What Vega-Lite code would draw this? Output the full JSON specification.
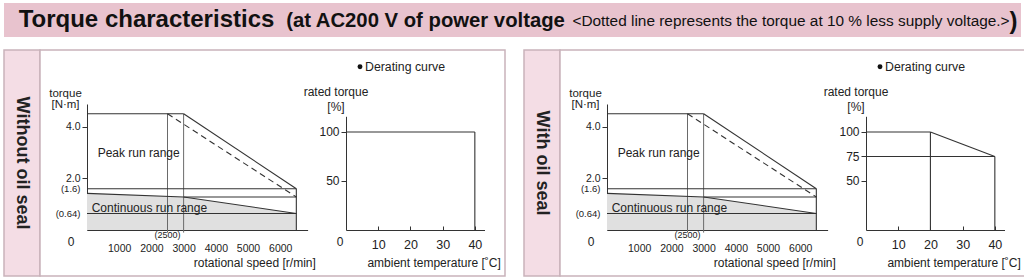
{
  "$schema": "https://vega.github.io/schema/vega-lite/v6.json",
  "padding": {"left": 3, "top": 3, "right": 0, "bottom": 0},
  "background": "white",
  "config": {
    "font": "Liberation Sans",
    "axis": {"grid": false, "domainColor": "#333", "tickColor": "#333", "labelColor": "#222", "titleColor": "#222", "titleFontWeight": "normal", "labelFont": "Liberation Sans", "titleFont": "Liberation Sans", "domainWidth": 1, "tickWidth": 1, "labelOverlap": false, "labelBound": false, "labelFlush": false},
    "text": {"color": "#222", "font": "Liberation Sans"}
  },
  "datasets": {
    "cont": [
      {"rpm": 0, "torque": 1.42},
      {"rpm": 3000, "torque": 1.28},
      {"rpm": 6500, "torque": 0.64}
    ],
    "tSolid": [
      {"rpm": 0, "torque": 4.5, "rpm2": 3000, "torque2": 4.5},
      {"rpm": 3000, "torque": 4.5, "rpm2": 6500, "torque2": 1.6},
      {"rpm": 6500, "torque": 1.6, "rpm2": 6500, "torque2": 0},
      {"rpm": 0, "torque": 1.6, "rpm2": 6500, "torque2": 1.6},
      {"rpm": 0, "torque": 0.64, "rpm2": 6500, "torque2": 0.64},
      {"rpm": 3000, "torque": 1.28, "rpm2": 6500, "torque2": 1.28},
      {"rpm": 0, "torque": 1.42, "rpm2": 3000, "torque2": 1.28},
      {"rpm": 3000, "torque": 1.28, "rpm2": 6500, "torque2": 0.64}
    ],
    "tGray": [
      {"rpm": 2500, "torque": -0.1, "rpm2": 2500, "torque2": 4.5},
      {"rpm": 3000, "torque": -0.1, "rpm2": 3000, "torque2": 4.5}
    ],
    "tDash": [
      {"rpm": 2500, "torque": 4.5, "rpm2": 6500, "torque2": 1.28}
    ],
    "tText": [
      {"label": "Peak run range", "rpm": 330, "torque": 2.97},
      {"label": "Continuous run range", "rpm": 146, "torque": 0.86}
    ],
    "tSmall": [
      {"label": "(2500)", "rpm": 2500, "torque": -0.19}
    ],
    "tZero": [
      {"label": "0", "rpm": -497, "torque": -0.47}
    ],
    "dLeft": [
      {"temp": 0, "pct": 100, "temp2": 40, "pct2": 100},
      {"temp": 40, "pct": 100, "temp2": 40, "pct2": 0}
    ],
    "dRight": [
      {"temp": 0, "pct": 100, "temp2": 20, "pct2": 100},
      {"temp": 20, "pct": 100, "temp2": 40, "pct2": 75},
      {"temp": 40, "pct": 75, "temp2": 40, "pct2": 0},
      {"temp": 0, "pct": 75, "temp2": 40, "pct2": 75},
      {"temp": 20, "pct": 100, "temp2": 20, "pct2": 0}
    ],
    "dBullet": [
      {"temp": 4.35, "pct": 166.6}
    ],
    "dText": [
      {"label": "Derating curve", "temp": 5.9, "pct": 166.6}
    ],
    "dZero": [
      {"label": "0", "temp": -1.86, "pct": -12.2}
    ]
  },
  "spacing": 12,
  "vconcat": [
    {
      "spacing": 0,
      "bounds": "flush",
      "hconcat": [
        {"width": 280, "height": 34, "view": {"fill": "#e8c3ce", "stroke": null},
         "data": {"values": [{"t": "Torque characteristics"}]},
         "mark": {"type": "text", "fontSize": 24, "fontWeight": "bold", "color": "#111", "baseline": "middle", "dx": 2.5},
         "encoding": {"text": {"field": "t"}}},
        {"width": 285, "height": 34, "view": {"fill": "#e8c3ce", "stroke": null},
         "data": {"values": [{"t": "(at AC200 V of power voltage"}]},
         "mark": {"type": "text", "fontSize": 20.3, "fontWeight": "bold", "color": "#111", "baseline": "middle", "dx": -1, "dy": 1},
         "encoding": {"text": {"field": "t"}}},
        {"width": 441, "height": 34, "view": {"fill": "#e8c3ce", "stroke": null},
         "data": {"values": [{"t": "<Dotted line represents the torque at 10 % less supply voltage.>"}]},
         "mark": {"type": "text", "fontSize": 15.4, "color": "#111", "baseline": "middle", "dx": 1.5, "dy": 1},
         "encoding": {"text": {"field": "t"}}},
        {"width": 11, "height": 34, "view": {"fill": "#e8c3ce", "stroke": null},
         "data": {"values": [{"t": ")"}]},
         "mark": {"type": "text", "fontSize": 24, "fontWeight": "bold", "color": "#111", "baseline": "middle", "dx": -2, "dy": 2},
         "encoding": {"text": {"field": "t"}}}
      ]
    },
    {
      "spacing": 17,
      "hconcat": [
        {
          "spacing": 0,
          "bounds": "flush",
          "hconcat": [
            {"width": 36, "height": 226, "view": {"fill": "#f4dde5", "stroke": "#c9b3bb", "strokeWidth": 1.5},
             "data": {"values": [{"t": "Without oil seal"}]},
             "mark": {"type": "text", "angle": 90, "fontSize": 18, "fontWeight": "bold", "color": "#222", "baseline": "middle"},
             "encoding": {"text": {"field": "t"}}},
            {
              "width": 465, "height": 226,
              "view": {"fill": "white", "stroke": "#c9b3bb", "strokeWidth": 1.5},
              "resolve": {"scale": {"x": "independent", "y": "independent"}, "axis": {"x": "independent", "y": "independent"}},
              "layer": [
                {
                  "layer": [
                    {"data": {"name": "cont"}, "mark": {"type": "area", "color": "#e0e0e0"},
                     "encoding": {
                       "x": {"field": "rpm", "type": "quantitative", "scale": {"domain": [0, 6850], "range": [47, 267.6], "nice": false, "zero": false},
                             "axis": {"orient": "bottom", "offset": -46, "values": [1000, 2000, 3000, 4000, 5000, 6000], "format": "d", "tickSize": -4, "labelPadding": 17, "labelFontSize": 10.5, "title": "rotational speed [r/min]", "titleX": 275.3, "titleY": 32, "titleAlign": "right", "titleBaseline": "middle", "titleFontSize": 12}},
                       "y": {"field": "torque", "type": "quantitative", "stack": null, "scale": {"domain": [0, 4.88], "range": [180, 54], "nice": false, "zero": false},
                             "axis": {"orient": "left", "offset": -47, "values": [0.64, 1.6, 2, 4], "labelExpr": "datum.value == 4 ? '4.0' : datum.value == 2 ? '2.0' : datum.value == 1.6 ? '(1.6)' : '(0.64)'", "tickSize": 5, "labelPadding": 2, "labelFontSize": {"condition": {"test": "datum.value < 1.9", "value": 9.5}, "value": 10.5}, "tickOpacity": {"condition": {"test": "datum.value < 1.9", "value": 0}, "value": 1}, "title": ["torque", "[N·m]"], "titleAngle": 0, "titleX": -22, "titleY": 37.5, "titleAlign": "center", "titleBaseline": "top", "titleLineHeight": 11, "titleFontSize": 11.5}}
                     }},
                    {"data": {"name": "tGray"}, "mark": {"type": "rule", "color": "#6a6a6a", "strokeWidth": 1},
                     "encoding": {"x": {"field": "rpm", "type": "quantitative"}, "x2": {"field": "rpm2"}, "y": {"field": "torque", "type": "quantitative"}, "y2": {"field": "torque2"}}},
                    {"data": {"name": "tSolid"}, "mark": {"type": "rule", "color": "#333", "strokeWidth": 1.1},
                     "encoding": {"x": {"field": "rpm", "type": "quantitative"}, "x2": {"field": "rpm2"}, "y": {"field": "torque", "type": "quantitative"}, "y2": {"field": "torque2"}}},
                    {"data": {"name": "tDash"}, "mark": {"type": "rule", "color": "#333", "strokeWidth": 1.1, "strokeDash": [6, 4]},
                     "encoding": {"x": {"field": "rpm", "type": "quantitative"}, "x2": {"field": "rpm2"}, "y": {"field": "torque", "type": "quantitative"}, "y2": {"field": "torque2"}}},
                    {"data": {"name": "tText"}, "mark": {"type": "text", "align": "left", "baseline": "middle", "fontSize": 12},
                     "encoding": {"x": {"field": "rpm", "type": "quantitative"}, "y": {"field": "torque", "type": "quantitative"}, "text": {"field": "label"}}},
                    {"data": {"name": "tSmall"}, "mark": {"type": "text", "align": "center", "baseline": "middle", "fontSize": 9},
                     "encoding": {"x": {"field": "rpm", "type": "quantitative"}, "y": {"field": "torque", "type": "quantitative"}, "text": {"field": "label"}}},
                    {"data": {"name": "tZero"}, "mark": {"type": "text", "align": "center", "baseline": "middle", "fontSize": 12},
                     "encoding": {"x": {"field": "rpm", "type": "quantitative"}, "y": {"field": "torque", "type": "quantitative"}, "text": {"field": "label"}}}
                  ]
                },
                {
                  "layer": [
                    {"data": {"name": "dLeft"}, "mark": {"type": "rule", "color": "#333", "strokeWidth": 1.1},
                     "encoding": {
                       "x": {"field": "temp", "type": "quantitative", "scale": {"domain": [0, 43], "range": [306, 444.5], "nice": false, "zero": false},
                             "axis": {"orient": "bottom", "offset": -46, "values": [10, 20, 30, 40], "tickSize": -4, "labelPadding": 12, "labelFontSize": 12.5, "title": "ambient temperature [˚C]", "titleX": 460.3, "titleY": 32, "titleAlign": "right", "titleBaseline": "middle", "titleFontSize": 12}},
                       "x2": {"field": "temp2"},
                       "y": {"field": "pct", "type": "quantitative", "scale": {"domain": [0, 116], "range": [180, 66.3], "nice": false, "zero": false},
                             "axis": {"orient": "left", "offset": -306, "values": [50, 100], "tickSize": 5, "labelPadding": 2, "labelFontSize": 12, "title": ["rated torque", "[%]"], "titleAngle": 0, "titleX": -10.5, "titleY": 36, "titleAlign": "center", "titleBaseline": "top", "titleLineHeight": 15, "titleFontSize": 12}},
                       "y2": {"field": "pct2"}
                     }},
                    {"data": {"name": "dBullet"}, "mark": {"type": "circle", "size": 24, "color": "#111", "opacity": 1},
                     "encoding": {"x": {"field": "temp", "type": "quantitative"}, "y": {"field": "pct", "type": "quantitative"}}},
                    {"data": {"name": "dText"}, "mark": {"type": "text", "align": "left", "baseline": "middle", "fontSize": 12.3},
                     "encoding": {"x": {"field": "temp", "type": "quantitative"}, "y": {"field": "pct", "type": "quantitative"}, "text": {"field": "label"}}},
                    {"data": {"name": "dZero"}, "mark": {"type": "text", "align": "center", "baseline": "middle", "fontSize": 12},
                     "encoding": {"x": {"field": "temp", "type": "quantitative"}, "y": {"field": "pct", "type": "quantitative"}, "text": {"field": "label"}}}
                  ]
                }
              ]
            }
          ]
        },
        {
          "spacing": 0,
          "bounds": "flush",
          "hconcat": [
            {"width": 36, "height": 226, "view": {"fill": "#f4dde5", "stroke": "#c9b3bb", "strokeWidth": 1.5},
             "data": {"values": [{"t": "With oil seal"}]},
             "mark": {"type": "text", "angle": 90, "fontSize": 18, "fontWeight": "bold", "color": "#222", "baseline": "middle"},
             "encoding": {"text": {"field": "t"}}},
            {
              "width": 465, "height": 226,
              "view": {"fill": "white", "stroke": "#c9b3bb", "strokeWidth": 1.5},
              "resolve": {"scale": {"x": "independent", "y": "independent"}, "axis": {"x": "independent", "y": "independent"}},
              "layer": [
                {
                  "layer": [
                    {"data": {"name": "cont"}, "mark": {"type": "area", "color": "#e0e0e0"},
                     "encoding": {
                       "x": {"field": "rpm", "type": "quantitative", "scale": {"domain": [0, 6850], "range": [47, 267.6], "nice": false, "zero": false},
                             "axis": {"orient": "bottom", "offset": -46, "values": [1000, 2000, 3000, 4000, 5000, 6000], "format": "d", "tickSize": -4, "labelPadding": 17, "labelFontSize": 10.5, "title": "rotational speed [r/min]", "titleX": 275.3, "titleY": 32, "titleAlign": "right", "titleBaseline": "middle", "titleFontSize": 12}},
                       "y": {"field": "torque", "type": "quantitative", "stack": null, "scale": {"domain": [0, 4.88], "range": [180, 54], "nice": false, "zero": false},
                             "axis": {"orient": "left", "offset": -47, "values": [0.64, 1.6, 2, 4], "labelExpr": "datum.value == 4 ? '4.0' : datum.value == 2 ? '2.0' : datum.value == 1.6 ? '(1.6)' : '(0.64)'", "tickSize": 5, "labelPadding": 2, "labelFontSize": {"condition": {"test": "datum.value < 1.9", "value": 9.5}, "value": 10.5}, "tickOpacity": {"condition": {"test": "datum.value < 1.9", "value": 0}, "value": 1}, "title": ["torque", "[N·m]"], "titleAngle": 0, "titleX": -22, "titleY": 37.5, "titleAlign": "center", "titleBaseline": "top", "titleLineHeight": 11, "titleFontSize": 11.5}}
                     }},
                    {"data": {"name": "tGray"}, "mark": {"type": "rule", "color": "#6a6a6a", "strokeWidth": 1},
                     "encoding": {"x": {"field": "rpm", "type": "quantitative"}, "x2": {"field": "rpm2"}, "y": {"field": "torque", "type": "quantitative"}, "y2": {"field": "torque2"}}},
                    {"data": {"name": "tSolid"}, "mark": {"type": "rule", "color": "#333", "strokeWidth": 1.1},
                     "encoding": {"x": {"field": "rpm", "type": "quantitative"}, "x2": {"field": "rpm2"}, "y": {"field": "torque", "type": "quantitative"}, "y2": {"field": "torque2"}}},
                    {"data": {"name": "tDash"}, "mark": {"type": "rule", "color": "#333", "strokeWidth": 1.1, "strokeDash": [6, 4]},
                     "encoding": {"x": {"field": "rpm", "type": "quantitative"}, "x2": {"field": "rpm2"}, "y": {"field": "torque", "type": "quantitative"}, "y2": {"field": "torque2"}}},
                    {"data": {"name": "tText"}, "mark": {"type": "text", "align": "left", "baseline": "middle", "fontSize": 12},
                     "encoding": {"x": {"field": "rpm", "type": "quantitative"}, "y": {"field": "torque", "type": "quantitative"}, "text": {"field": "label"}}},
                    {"data": {"name": "tSmall"}, "mark": {"type": "text", "align": "center", "baseline": "middle", "fontSize": 9},
                     "encoding": {"x": {"field": "rpm", "type": "quantitative"}, "y": {"field": "torque", "type": "quantitative"}, "text": {"field": "label"}}},
                    {"data": {"name": "tZero"}, "mark": {"type": "text", "align": "center", "baseline": "middle", "fontSize": 12},
                     "encoding": {"x": {"field": "rpm", "type": "quantitative"}, "y": {"field": "torque", "type": "quantitative"}, "text": {"field": "label"}}}
                  ]
                },
                {
                  "layer": [
                    {"data": {"name": "dRight"}, "mark": {"type": "rule", "color": "#333", "strokeWidth": 1.1},
                     "encoding": {
                       "x": {"field": "temp", "type": "quantitative", "scale": {"domain": [0, 43], "range": [306, 444.5], "nice": false, "zero": false},
                             "axis": {"orient": "bottom", "offset": -46, "values": [10, 20, 30, 40], "tickSize": -4, "labelPadding": 12, "labelFontSize": 12.5, "title": "ambient temperature [˚C]", "titleX": 460.3, "titleY": 32, "titleAlign": "right", "titleBaseline": "middle", "titleFontSize": 12}},
                       "x2": {"field": "temp2"},
                       "y": {"field": "pct", "type": "quantitative", "scale": {"domain": [0, 116], "range": [180, 66.3], "nice": false, "zero": false},
                             "axis": {"orient": "left", "offset": -306, "values": [50, 75, 100], "tickSize": 5, "labelPadding": 2, "labelFontSize": 12, "title": ["rated torque", "[%]"], "titleAngle": 0, "titleX": -10.5, "titleY": 36, "titleAlign": "center", "titleBaseline": "top", "titleLineHeight": 15, "titleFontSize": 12}},
                       "y2": {"field": "pct2"}
                     }},
                    {"data": {"name": "dBullet"}, "mark": {"type": "circle", "size": 24, "color": "#111", "opacity": 1},
                     "encoding": {"x": {"field": "temp", "type": "quantitative"}, "y": {"field": "pct", "type": "quantitative"}}},
                    {"data": {"name": "dText"}, "mark": {"type": "text", "align": "left", "baseline": "middle", "fontSize": 12.3},
                     "encoding": {"x": {"field": "temp", "type": "quantitative"}, "y": {"field": "pct", "type": "quantitative"}, "text": {"field": "label"}}},
                    {"data": {"name": "dZero"}, "mark": {"type": "text", "align": "center", "baseline": "middle", "fontSize": 12},
                     "encoding": {"x": {"field": "temp", "type": "quantitative"}, "y": {"field": "pct", "type": "quantitative"}, "text": {"field": "label"}}}
                  ]
                }
              ]
            }
          ]
        }
      ]
    }
  ]
}
